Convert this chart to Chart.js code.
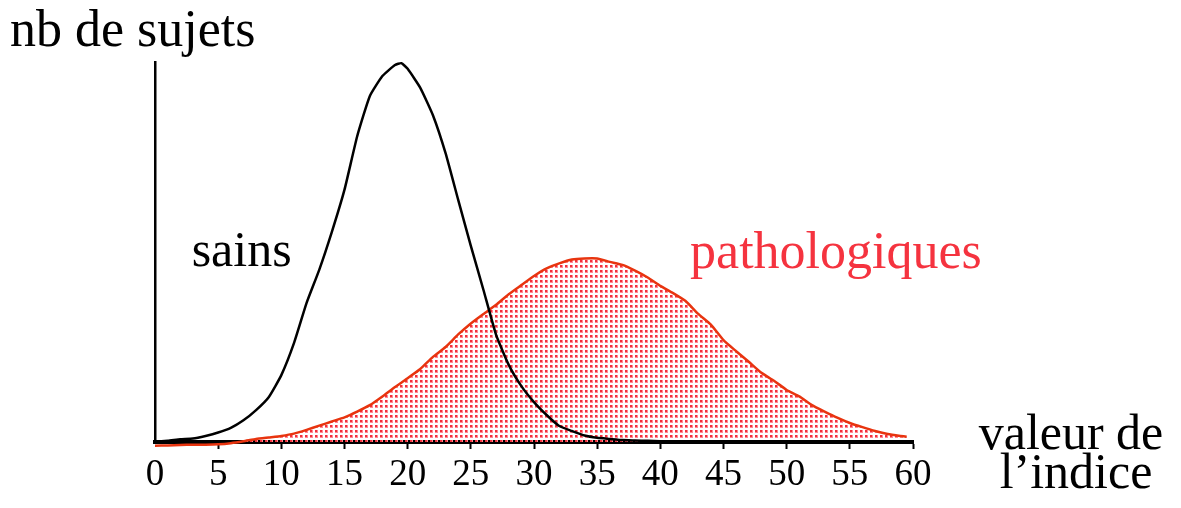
<!DOCTYPE html>
<html>
<head>
<meta charset="utf-8">
<script src="https://cdn.jsdelivr.net/npm/chart.js@4/dist/chart.umd.min.js"></script>
<style>
  html, body { margin: 0; padding: 0; background: #fff; }
  canvas { display: block; }
</style>
</head>
<body>
<canvas id="distChart" width="1181" height="508"></canvas>
<script>
"use strict";

// index value (x) shared by both curves
const indexValues = [0, 1, 2, 3, 4, 5, 6, 7, 8, 9, 10, 11, 12, 13, 14, 15, 16, 17, 18, 19, 19.5, 20,
  21, 22, 23, 24, 25, 26, 27, 28, 29, 30, 31, 32, 33, 34, 35, 36, 37, 38, 39, 40,
  41, 42, 43, 44, 45, 46, 47, 48, 49, 50, 51, 52, 53, 54, 55, 56, 57, 58, 59, 59.5, 60];

// "sains" (healthy subjects)
const healthy = [0.1, 0.3, 0.7, 0.9, 1.6, 2.5, 3.7, 5.7, 8.4, 11.8, 17.6, 26, 36.6, 45.3, 55.3, 66.4, 80.4, 91, 96.3, 99.2, 99.7, 98.2,
  93.2, 86, 76, 63.7, 51.6, 40, 28.2, 20.3, 14.7, 10.5, 7.1, 4.2, 2.9, 1.7, 1.1, 0.8, 0.5, 0.4, 0.3, 0.2,
  0.2, 0.2, 0.2, 0.2, 0.2, 0.2, 0.2, 0.2, 0.2, 0.2, 0.2, 0.2, 0.2, 0.2, 0.2, 0.2, 0.2, 0.2, 0.2, 0.2, 0.2];

// "pathologiques" (pathological subjects)
const pathological = [-1.0, -0.9, -0.8, -0.7, -0.7, -0.6, -0.3, 0.2, 0.8, 1.2, 1.6, 2.2, 3.2, 4.3, 5.4, 6.5, 8.0, 9.7, 12.0, 14.5, 15.6, 16.8,
  19.2, 22.4, 25.0, 28.3, 31.2, 33.7, 36.1, 38.9, 41.3, 43.7, 45.7, 47.0, 48.0, 48.3, 48.3, 47.4, 46.6, 45.1, 43.3, 41.1,
  39.2, 37.1, 33.7, 30.9, 26.8, 23.9, 21.1, 18.2, 16.1, 13.7, 12.0, 9.7, 8.0, 6.4, 5.0, 3.9, 2.9, 2.1, 1.6, 1.4, null];

const xTicks = [0, 5, 10, 15, 20, 25, 30, 35, 40, 45, 50, 55, 60];

const SERIF = "'Liberation Serif', 'Times New Roman', serif";
const RED_LINE = "#e8340f";
const RED_TEXT = "#f5333f";

// dotted fill like the printed screen
function dotPattern() {
  let c = document.createElement("canvas");
  c.width = 5;
  c.height = 5;
  let g = c.getContext("2d");
  g.fillStyle = "#ff8a94";
  g.fillRect(0, 0, 3, 3);
  g.fillStyle = "#f2303c";
  g.fillRect(0, 0, 2, 2);
  return g.createPattern(c, "repeat");
}

function toPoints(xs, ys) {
  return xs.map((x, i) => ({x: x, y: ys[i]}));
}

// free text: axis titles and curve names
const textPlugin = {
  id: "texts",
  afterDraw(chart) {
    const ctx = chart.ctx;
    const area = chart.chartArea;
    const xs = chart.scales.x;
    const ys = chart.scales.y;
    ctx.save();
    ctx.textBaseline = "alphabetic";

    ctx.fillStyle = "#000";
    ctx.font = "52px " + SERIF;
    ctx.textAlign = "left";
    ctx.fillText("nb de sujets", area.left - 145, area.top - 16);

    ctx.font = "50px " + SERIF;
    ctx.textAlign = "center";
    ctx.fillText("valeur de", area.right + 158, area.bottom + 7);
    ctx.fillText("l\u2019indice", area.right + 163, area.bottom + 46);

    ctx.textAlign = "left";
    ctx.fillText("sains", xs.getPixelForValue(2.9), ys.getPixelForValue(46.3));

    ctx.font = "52px " + SERIF;
    ctx.fillStyle = RED_TEXT;
    ctx.textAlign = "center";
    ctx.fillText("pathologiques", xs.getPixelForValue(53.9), ys.getPixelForValue(45.8));
    ctx.restore();
  }
};

new Chart(document.getElementById("distChart"), {
  type: "line",
  data: {
    datasets: [
      {
        label: "sains",
        data: toPoints(indexValues, healthy),
        borderColor: "#000",
        borderWidth: 2.5,
        pointRadius: 0,
        tension: 0.15,
        fill: false,
        clip: 6
      },
      {
        label: "pathologiques",
        data: toPoints(indexValues, pathological),
        borderColor: RED_LINE,
        backgroundColor: dotPattern(),
        borderWidth: 2.5,
        pointRadius: 0,
        tension: 0.15,
        fill: "origin",
        spanGaps: false,
        clip: 6
      }
    ]
  },
  options: {
    responsive: false,
    animation: false,
    events: [],
    layout: {
      padding: { left: 155, right: 268, top: 62, bottom: 0 }
    },
    scales: {
      x: {
        type: "linear",
        min: 0,
        max: 60,
        afterBuildTicks: (scale) => { scale.ticks = xTicks.map(v => ({value: v})); },
        afterFit: (scale) => { scale.height = 66; },
        border: { display: true, color: "#000", width: 4 },
        grid: {
          drawOnChartArea: false,
          drawTicks: true,
          tickLength: 7,
          tickWidth: 2,
          color: (c) => (c.tick && c.tick.value === 0) ? "rgba(0,0,0,0)" : "#000"
        },
        ticks: {
          color: "#000",
          font: { family: SERIF, size: 37 },
          padding: 4,
          maxRotation: 0,
          autoSkip: false
        }
      },
      y: {
        min: 0,
        max: 100,
        afterFit: (scale) => { scale.width = 0; },
        border: { display: true, color: "#000", width: 2.5 },
        grid: { display: false },
        ticks: { display: false }
      }
    },
    plugins: {
      legend: { display: false },
      tooltip: { enabled: false },
      title: { display: false }
    }
  },
  plugins: [textPlugin]
});
</script>
</body>
</html>
